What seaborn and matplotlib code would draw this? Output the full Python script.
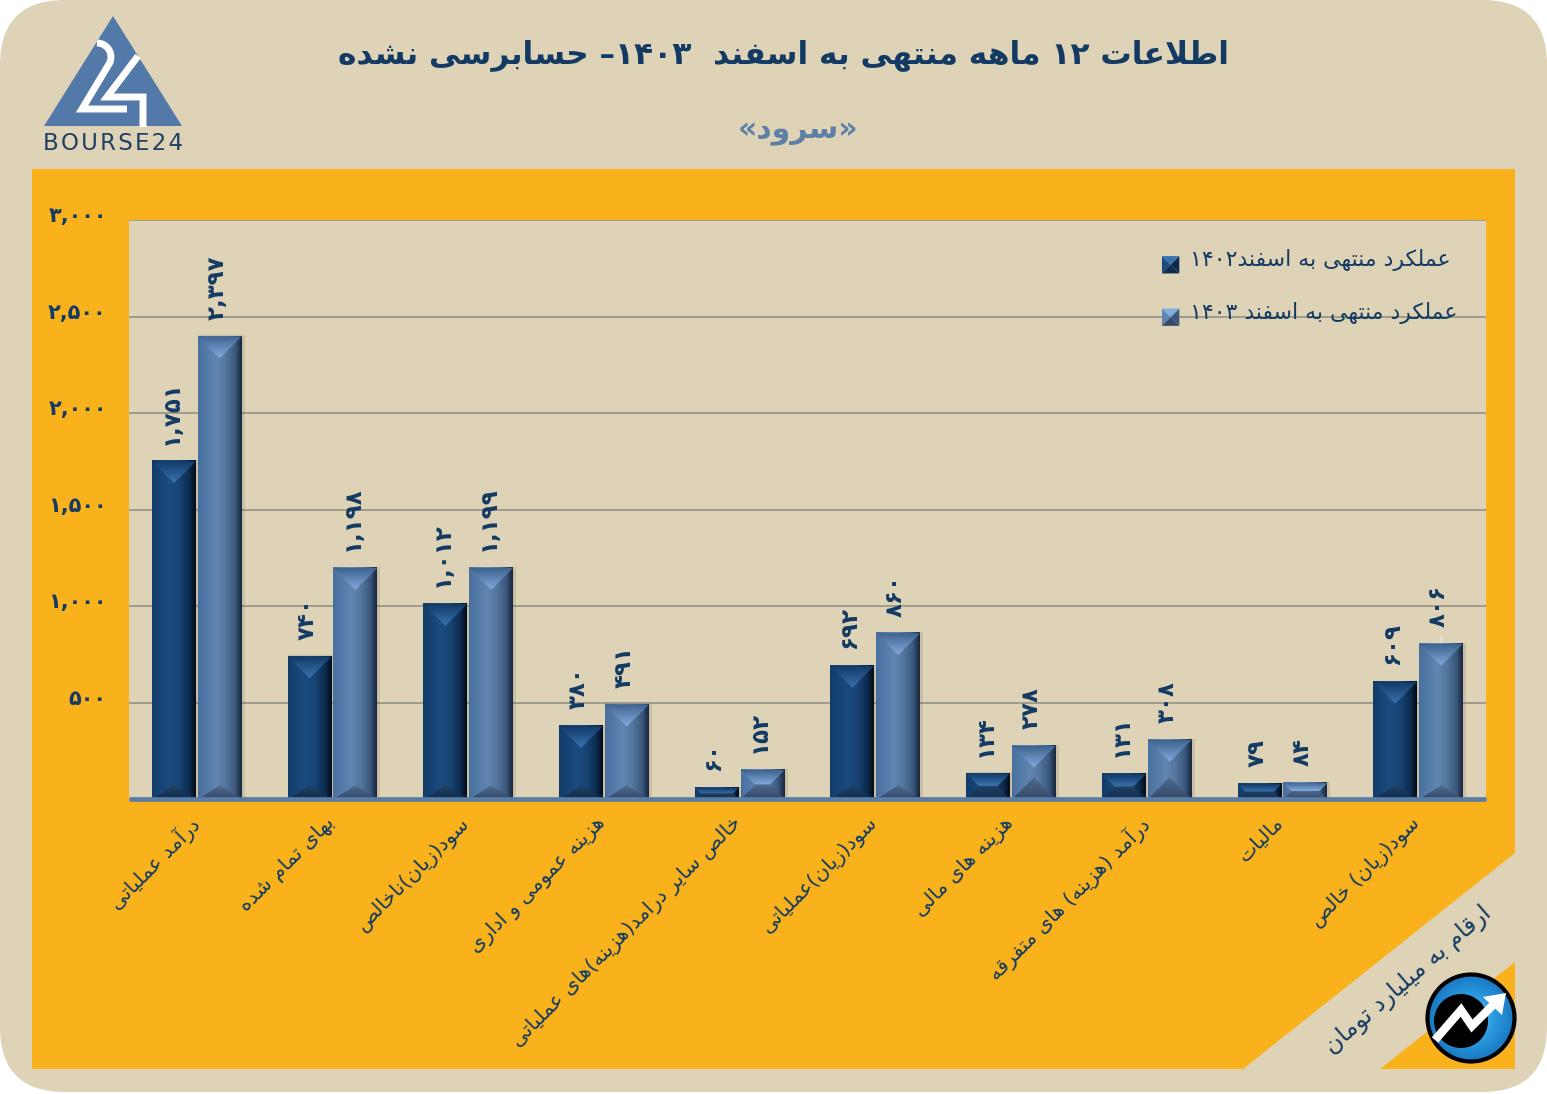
import re
import numpy as np
import pandas as pd
import matplotlib
matplotlib.use("Agg")
import matplotlib.pyplot as plt
import seaborn as sns
from matplotlib.colors import LinearSegmentedColormap
from matplotlib.patches import Polygon, Rectangle, FancyBboxPatch, Circle
from matplotlib.legend_handler import HandlerPatch
from matplotlib.transforms import ScaledTranslation

# ---------- data ----------
categories = ["درآمد عملیاتی", "بهای تمام شده", "سود(زیان)ناخالص", "هزینه عمومی و اداری",
              "خالص سایر درامد(هزینه)های عملیاتی", "سود(زیان)عملیاتی", "هزینه های مالی",
              "درآمد (هزینه) های متفرقه", "مالیات", "سود(زیان) خالص"]
values_1402 = [1751, 740, 1012, 380, 60, 692, 134, 131, 79, 609]
values_1403 = [2397, 1198, 1199, 491, 152, 860, 278, 308, 84, 806]
series_names = ["عملکرد منتهی به اسفند۱۴۰۲", "عملکرد منتهی به اسفند ۱۴۰۳"]
y_ticks = [0, 500, 1000, 1500, 2000, 2500, 3000]
title_text = "اطلاعات ۱۲ ماهه منتهی به اسفند  ۱۴۰۳– حسابرسی نشده"
subtitle_text = "«سرود»"
unit_text = "ارقام به میلیارد تومان"

# ---------- Persian shaping (matplotlib has no RTL / joining support) ----------
def _r(a):
    return tuple(chr(a + i) for i in range(4))
FORMS = {
    "ا": (chr(0xFE8D), chr(0xFE8E)), "آ": (chr(0xFE81), chr(0xFE82)),
    "د": (chr(0xFEA9), chr(0xFEAA)), "ر": (chr(0xFEAD), chr(0xFEAE)),
    "ز": (chr(0xFEAF), chr(0xFEB0)), "و": (chr(0xFEED), chr(0xFEEE)),
    "ب": _r(0xFE8F), "پ": _r(0xFB56), "ت": _r(0xFE95), "ج": _r(0xFE9D), "چ": _r(0xFB7A),
    "ح": _r(0xFEA1), "خ": _r(0xFEA5), "س": _r(0xFEB1), "ش": _r(0xFEB5), "ص": _r(0xFEB9),
    "ط": _r(0xFEC1), "ع": _r(0xFEC9), "ف": _r(0xFED1), "ق": _r(0xFED5), "ک": _r(0xFB8E),
    "گ": _r(0xFB92), "ل": _r(0xFEDD), "م": _r(0xFEE1), "ن": _r(0xFEE5), "ه": _r(0xFEE9),
    "ی": _r(0xFBFC),
}
MIRROR = {"(": ")", ")": "(", "«": "»", "»": "«"}

def fa(text):
    out, i, n = [], 0, len(text)
    prev_joins = False
    while i < n:
        c = text[i]
        if c not in FORMS:
            out.append(MIRROR.get(c, c)); prev_joins = False; i += 1; continue
        if c == "ل" and i + 1 < n and text[i + 1] == "ا":
            out.append(chr(0xFEFC) if prev_joins else chr(0xFEFB))
            prev_joins = False; i += 2; continue
        f = FORMS[c]
        next_ok = i + 1 < n and text[i + 1] in FORMS
        if len(f) == 2:
            out.append(f[1] if prev_joins else f[0]); prev_joins = False
        else:
            if prev_joins and next_ok: out.append(f[3])
            elif prev_joins: out.append(f[1])
            elif next_ok: out.append(f[2])
            else: out.append(f[0])
            prev_joins = next_ok
        i += 1
    rev = "".join(out)[::-1]
    return re.sub(r"[۰-۹,]+", lambda m: m.group()[::-1], rev)

DIG = str.maketrans("0123456789", "۰۱۲۳۴۵۶۷۸۹")
def fa_num(v):
    return f"{v:,}".translate(DIG)

# ---------- style ----------
W, H = 1547, 1094
BEIGE, ORANGE, NAVY, STEEL = "#DFD3B7", "#F9B21B", "#123A63", "#5E7FA6"
sns.set_theme(style="white")
plt.rcParams["font.family"] = ["DejaVu Sans"]
plt.rcParams["font.weight"] = "bold"

fig = plt.figure(figsize=(W / 100, H / 100), dpi=100, facecolor="white")

# background layer in pixel coordinates
bg = fig.add_axes([0, 0, 1, 1], zorder=0)
bg.set_xlim(0, W); bg.set_ylim(H, 0); bg.axis("off")
bg.add_patch(FancyBboxPatch((60, 60), W - 120, H - 122, boxstyle="round,pad=60,rounding_size=65",
                            fc=BEIGE, ec="none"))
bg.add_patch(Polygon([(32, 169), (1515, 169), (1515, 853), (1243, 1069), (32, 1069)], fc=ORANGE, ec="none"))
bg.add_patch(Polygon([(1515, 962), (1515, 1069), (1380, 1069)], fc=ORANGE, ec="none"))

bg.text(783, 55, fa(title_text), ha="center", va="center", color=NAVY, fontsize=22.5, fontweight="bold")
bg.text(798, 131, fa(subtitle_text), ha="center", va="center", color=STEEL, fontsize=21.5, fontweight="bold")
bg.text(1408, 980, fa(unit_text), ha="center", va="center", rotation=41, rotation_mode="anchor",
        color=NAVY, fontsize=17, fontweight="normal")

# logo
bg.add_patch(Polygon([(113, 16), (44, 126), (182, 126)], fc="#5379A8", ec="none"))
t = np.linspace(-np.pi / 2, 0.42, 12)
two_x = list(97 + 14 * np.cos(t)); two_y = list(57 + 14 * np.sin(t))
bg.plot(two_x + [82, 127], two_y + [109, 109], color="white", lw=5, solid_joinstyle="miter", solid_capstyle="butt")
bg.plot([138, 107, 143, 143], [56, 97, 97, 127], color="white", lw=5, solid_joinstyle="miter", solid_capstyle="butt")
bg.text(113, 144, "\u200a".join("BOURSE24"), ha="center", va="center", color="#1F3F63",
        fontsize=16.5, fontweight="normal", family="DejaVu Sans")

# corner icon
rad = np.hypot(*np.meshgrid(np.linspace(-1, 1, 200), np.linspace(-1, 1, 200)))
cm_ic = LinearSegmentedColormap.from_list("ic", ["#7CC7F0", "#2B9BE0", "#1673BC"])
im = bg.imshow(rad, cmap=cm_ic, extent=(1427, 1515, 1062, 974), aspect="auto", zorder=3, vmin=0, vmax=1.05)
im.set_clip_path(Circle((1471, 1018), 44, transform=bg.transData))
bg.add_patch(Circle((1471, 1018), 43.5, fc="none", ec="black", lw=3, zorder=4))
bg.add_patch(Circle((1461, 1021), 27, fc="black", ec="none", zorder=4))
bg.plot([1435, 1461, 1472, 1495], [1040, 1010, 1026, 1003], color="white", lw=6, zorder=5,
        solid_joinstyle="miter", solid_capstyle="butt")
bg.add_patch(Polygon([(1506, 993), (1483, 997), (1502, 1015)], fc="white", ec="none", zorder=5))
bg.set_xlim(0, W); bg.set_ylim(H, 0)

# main axes
ax = fig.add_axes([129 / W, 1 - 799.3 / H, (1486 - 129) / W, (799.3 - 220) / H], zorder=1, facecolor=BEIGE)
df = pd.DataFrame({
    "category": categories * 2,
    "value": values_1402 + values_1403,
    "series": [series_names[0]] * len(categories) + [series_names[1]] * len(categories),
})
pal = {series_names[0]: "#123F70", series_names[1]: "#5A7EAB"}
sns.barplot(data=df, x="category", y="value", hue="series", palette=pal, width=0.675, gap=0.04,
            ax=ax, legend=False, saturation=1, zorder=3, linewidth=0, edgecolor="none")

ax.set_xlim(-0.5, 9.5); ax.set_ylim(0, 3000)
ax.set_xlabel(""); ax.set_ylabel("")
ax.set_yticks(y_ticks)
ax.set_yticklabels([""] + [fa_num(v) for v in y_ticks[1:]], color=NAVY, fontsize=15, fontweight="bold")
ax.set_xticks(range(len(categories)))
ax.set_xticklabels([fa(c) for c in categories], rotation=45, ha="right", rotation_mode="anchor",
                   color=NAVY, fontsize=14.7, fontweight="normal")
ax.tick_params(axis="y", length=0, pad=16)
ax.tick_params(axis="x", length=0, pad=10)
for lab in ax.get_yticklabels():
    lab.set_transform(lab.get_transform() + ScaledTranslation(0, 6 / 100, fig.dpi_scale_trans))
for lab in ax.get_xticklabels():
    lab.set_transform(lab.get_transform() + ScaledTranslation(-8 / 100, 0, fig.dpi_scale_trans))
ax.yaxis.grid(True, color="#A09C8C", lw=1.4, zorder=1)
ax.set_axisbelow(True)
for s in ("left", "right", "top"):
    ax.spines[s].set_visible(False)
ax.spines["bottom"].set_color("#5B7CA3")
ax.spines["bottom"].set_linewidth(3.4)
ax.spines["bottom"].set_capstyle("butt")
ax.spines["bottom"].set_zorder(8)

PX_X = 10.0 / (1486 - 129)
PX_Y = 3000.0 / (799.3 - 220)

THEME = [
    dict(body=["#123B69", "#1B4C80", "#174474", "#0C2A4E", "#030B16"], stops=[0, .4, .62, .86, 1],
         top=("#3A73B0", "#123A66"), bot=("#23415F", "#0E2C50")),
    dict(body=["#48709F", "#6286B2", "#55789F", "#3B587C", "#16263C"], stops=[0, .42, .62, .85, 1],
         top=("#82ABDE", "#3F638F"), bot=("#506B8D", "#34496A")),
]

def gradient(extent, colors, vertical, z, clip=None, stops=None):
    seq = list(zip(stops, colors)) if stops else list(colors)
    cmap = LinearSegmentedColormap.from_list("g", seq)
    arr = np.linspace(0, 1, 128)
    arr = arr[:, None] if vertical else arr[None, :]
    img = ax.imshow(arr, cmap=cmap, extent=extent, origin="lower", aspect="auto", zorder=z, interpolation="bilinear")
    if clip is not None:
        img.set_clip_path(Polygon(clip, closed=True, transform=ax.transData))
    return img

for cont, th in zip(ax.containers, THEME):
    for p in cont:
        x0, x1, h = p.get_x(), p.get_x() + p.get_width(), p.get_height()
        w_px = p.get_width() / PX_X
        h_px = h / PX_Y
        inset = min(w_px, h_px) / 2
        dx, dy = inset * PX_X, inset * PX_Y
        # soft shadow on the right of the bar, derived from the bar itself
        ax.add_patch(Rectangle((x0, 0), p.get_width() + 3 * PX_X, h + 1 * PX_Y,
                               fc="#3A3A30", alpha=0.13, ec="none", zorder=2.5))
        gradient((x0, x1, 0, h), th["body"], False, 4, stops=th["stops"])
        gradient((x0, x1, h - dy, h), th["top"], True, 5,
                 clip=[(x0, h), (x1, h), (x1 - dx, h - dy), (x0 + dx, h - dy)])
        # the lower bevel is flatter on the tall bars
        bot_dy = 14 * PX_Y if h_px > 70 else dy
        gradient((x0, x1, 0, bot_dy), (th["bot"][1], th["bot"][0]), True, 5,
                 clip=[(x0, 0), (x1, 0), (x1 - dx, bot_dy), (x0 + dx, bot_dy)])

for cont in ax.containers:
    vals = cont.datavalues
    labs = ax.bar_label(cont, labels=[fa_num(int(v)) for v in vals], rotation=90, padding=12,
                        color=NAVY, fontsize=16.5, fontweight="bold", zorder=6)
    for a in labs:
        a.xyann = (-2, 12)

# thin leader line above the last bar of the 1403 series
last = ax.containers[1][-1]
ax.vlines(last.get_x() + last.get_width() / 2, last.get_height(), last.get_height() + 45,
          color="#F2ECDD", lw=1, zorder=2)

# legend with bevelled swatches
class Bevel(HandlerPatch):
    def __init__(self, th):
        super().__init__(); self.th = th
    def create_artists(self, legend, orig, xd, yd, w, h, fs, trans):
        s = 12.5
        x0, y0 = -xd, -yd + (h - s) / 2 - 4.3
        x1, y1 = x0 + s, y0 + s
        cx, cy = x0 + s / 2, y0 + s / 2
        th = self.th
        arts = [
            Polygon([(x0, y0), (x0, y1), (cx, cy)], fc=th["body"][1]),
            Polygon([(x1, y0), (x1, y1), (cx, cy)], fc=th["body"][3]),
            Polygon([(x0, y1), (x1, y1), (cx, cy)], fc=th["top"][0]),
            Polygon([(x0, y0), (x1, y0), (cx, cy)], fc=th["bot"][1]),
        ]
        for a in arts:
            a.set_edgecolor("none"); a.set_transform(trans)
        return arts

h0, h1 = Rectangle((0, 0), 1, 1, fc=pal[series_names[0]]), Rectangle((0, 0), 1, 1, fc=pal[series_names[1]])
ax.legend([h0, h1], [fa(n) for n in series_names], handler_map={h0: Bevel(THEME[0]), h1: Bevel(THEME[1])},
          loc="upper left", bbox_to_anchor=(0.7612, 0.95), borderaxespad=0, borderpad=0, frameon=False,
          handlelength=0.9, handleheight=1.0, handletextpad=0.37, labelspacing=1.37,
          prop={"size": 15.8, "weight": "normal"}, labelcolor=NAVY).set_zorder(7)

fig.savefig("out.png", dpi=100, facecolor="white")
